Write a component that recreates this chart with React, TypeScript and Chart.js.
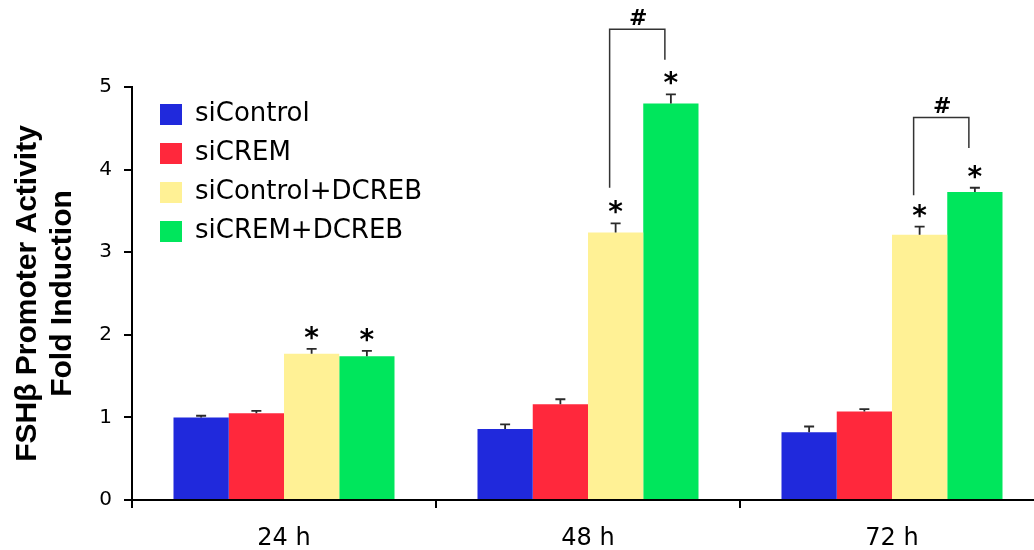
import React, { useEffect, useRef } from 'react';
import { Chart, registerables } from 'chart.js';

Chart.register(...registerables);

// ---- data ----
const categories = ['24 h', '48 h', '72 h'];
const seriesNames = ['siControl', 'siCREM', 'siControl+DCREB', 'siCREM+DCREB'];
const seriesColors = ['#2029dc', '#ff283c', '#fff195', '#00e65c'];

const siControl = [1.0, 0.86, 0.82];
const siCREM = [1.05, 1.16, 1.07];
const siControlDCREB = [1.77, 3.24, 3.21];
const siCREMDCREB = [1.74, 4.8, 3.73];

const siControlErr = [0.02, 0.055, 0.07];
const siCREMErr = [0.03, 0.06, 0.03];
const siControlDCREBErr = [0.06, 0.11, 0.1];
const siCREMDCREBErr = [0.065, 0.11, 0.05];

const siControlStar = [false, false, false];
const siCREMStar = [false, false, false];
const siControlDCREBStar = [true, true, true];
const siCREMDCREBStar = [true, true, true];

const yMin = 0;
const yMax = 5;
const yStep = 1;
const yTitle = ['FSH\u03B2 Promoter Activity', 'Fold Induction'];

// "#" significance brackets between siControl+DCREB and siCREM+DCREB
const bracketCategory = [1, 2];
const bracketTop = [5.7, 4.63];
const bracketLeftEnd = [3.78, 3.69];
const bracketRightEnd = [5.33, 4.26];
const bracketLabel = '#';
const starLabel = '*';

const seriesValues = [siControl, siCREM, siControlDCREB, siCREMDCREB];
const seriesErrs = [siControlErr, siCREMErr, siControlDCREBErr, siCREMDCREBErr];
const seriesStars = [siControlStar, siCREMStar, siControlDCREBStar, siCREMDCREBStar];

function drawCenteredGlyph(ctx: CanvasRenderingContext2D, text: string, cx: number, cy: number) {
  ctx.textAlign = 'center';
  ctx.textBaseline = 'alphabetic';
  const m = ctx.measureText(text);
  const asc = m.actualBoundingBoxAscent;
  const desc = m.actualBoundingBoxDescent;
  ctx.fillText(text, cx, cy + (asc - desc) / 2);
}

const annotatePlugin = {
  id: 'annotate',
  afterLayout(chart: any) {
    const lg = chart.legend;
    if (lg) {
      lg.left = chart.chartArea.left + 15;
      lg.top = chart.chartArea.top + 1.5;
    }
  },
  afterDatasetsDraw(chart: any) {
    const ctx: CanvasRenderingContext2D = chart.ctx;
    const y = chart.scales.y;
    ctx.save();
    chart.data.datasets.forEach((ds: any, di: number) => {
      const meta = chart.getDatasetMeta(di);
      meta.data.forEach((bar: any, i: number) => {
        const v = ds.data[i];
        const e = seriesErrs[di][i];
        const yTop = y.getPixelForValue(v + e);
        ctx.strokeStyle = '#2a2a2a';
        ctx.lineWidth = 1.8;
        ctx.beginPath();
        ctx.moveTo(bar.x, bar.y);
        ctx.lineTo(bar.x, yTop);
        ctx.moveTo(bar.x - 5, yTop);
        ctx.lineTo(bar.x + 5, yTop);
        ctx.stroke();
        if (seriesStars[di][i]) {
          ctx.fillStyle = '#000';
          ctx.font = 'bold 28px "DejaVu Sans"';
          drawCenteredGlyph(ctx, starLabel, bar.x, yTop - 16);
        }
      });
    });
    const left = chart.getDatasetMeta(2);
    const right = chart.getDatasetMeta(3);
    bracketCategory.forEach((c, k) => {
      const xl = left.data[c].x - 6;
      const xr = right.data[c].x - 6;
      const yt = y.getPixelForValue(bracketTop[k]);
      ctx.strokeStyle = '#333';
      ctx.lineWidth = 1.5;
      ctx.beginPath();
      ctx.moveTo(xl, y.getPixelForValue(bracketLeftEnd[k]));
      ctx.lineTo(xl, yt);
      ctx.lineTo(xr, yt);
      ctx.lineTo(xr, y.getPixelForValue(bracketRightEnd[k]));
      ctx.stroke();
      ctx.fillStyle = '#000';
      ctx.font = 'bold 22px "DejaVu Sans"';
      drawCenteredGlyph(ctx, bracketLabel, (xl + xr) / 2 + 1, yt - 12.5);
    });
    ctx.restore();
  },
};

export default function App() {
  const ref = useRef<HTMLCanvasElement | null>(null);
  useEffect(() => {
    if (!ref.current) return;
    const chart = new Chart(ref.current, {
      type: 'bar',
      data: {
        labels: categories,
        datasets: seriesNames.map((name, i) => ({
          label: name,
          data: seriesValues[i],
          backgroundColor: seriesColors[i],
          borderWidth: 0,
          categoryPercentage: 0.727,
          barPercentage: 1.0,
        })),
      },
      options: {
        animation: false,
        responsive: false,
        devicePixelRatio: 1,
        layout: { padding: { top: 87, left: 0, right: 0, bottom: 0 } },
        plugins: {
          legend: {
            position: 'chartArea' as any,
            align: 'start',
            labels: {
              boxWidth: 22,
              boxHeight: 21,
              padding: 13,
              color: '#000',
              font: { family: '"DejaVu Sans"', size: 26 },
            },
          },
          tooltip: { enabled: false },
          title: { display: false },
        },
        scales: {
          x: {
            type: 'category',
            offset: true,
            grid: {
              offset: true,
              drawOnChartArea: false,
              drawTicks: true,
              tickLength: 8,
              color: '#000',
              lineWidth: 2,
            },
            border: { color: '#000', width: 2 },
            ticks: {
              color: '#000',
              font: { family: '"DejaVu Sans"', size: 24 },
              padding: 16,
              maxRotation: 0,
            },
            afterFit: (s: any) => {
              s.height = 50;
            },
          },
          y: {
            min: yMin,
            max: yMax,
            ticks: {
              stepSize: yStep,
              padding: 12,
              color: '#000',
              font: { family: '"DejaVu Sans"', size: 20 },
            },
            grid: {
              drawOnChartArea: false,
              drawTicks: true,
              tickLength: 8,
              color: '#000',
              lineWidth: 2,
            },
            border: { color: '#000', width: 2 },
            title: {
              display: true,
              text: yTitle,
              color: '#000',
              font: { family: '"Liberation Sans", Arial', weight: 'bold', size: 30, lineHeight: 1.17 },
              padding: { top: 10, bottom: 0 },
            },
            afterFit: (s: any) => {
              s.width = 132;
            },
          },
        },
      },
      plugins: [annotatePlugin],
    } as any);
    return () => chart.destroy();
  }, []);
  return (
    <div
      style={{
        position: 'absolute',
        left: 0,
        top: 0,
        width: 1034,
        height: 550,
        overflow: 'hidden',
        background: '#fff',
      }}
    >
      <canvas ref={ref} width={1044} height={550} style={{ display: 'block' }} />
    </div>
  );
}
